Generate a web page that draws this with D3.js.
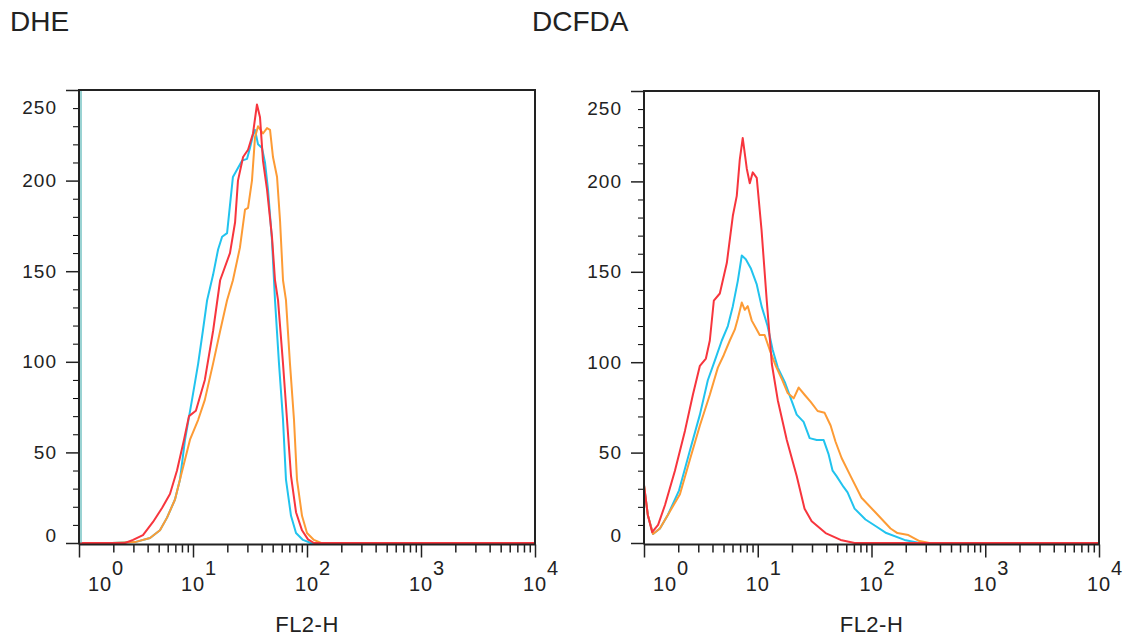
<!DOCTYPE html>
<html>
<head>
<meta charset="utf-8">
<script src="https://cdnjs.cloudflare.com/ajax/libs/d3/7.8.5/d3.min.js"></script>
<style>
body { margin: 0; background: #fff; }
svg text { font-family: "Liberation Sans", Arial, sans-serif; fill: #222; }
</style>
</head>
<body>
<svg id="chart" width="1124" height="637"></svg>
<script>
var titles = ["DHE", "DCFDA"];
var axisLabel = "FL2-H";
var yTicks = [0, 50, 100, 150, 200, 250];
var xDecades = [1, 10, 100, 1000, 10000];
var xExponents = ["0", "1", "2", "3", "4"];
var colors = {red: "#f7353d", cyan: "#21c3ee", orange: "#fd9b35"};

// histograms as [FL2-H, count]
var dheRed = [[1,0],[1.95,0],[2.53,0],[2.98,1.7],[3.64,4.4],[4.46,11.6],[5.35,19.3],[6.28,27],[7.24,40],[8.34,57],[9.22,70],[10.6,73],[12.7,90],[15.0,117],[17.3,145],[21.1,160],[23.4,177],[24.8,200],[27.5,213],[30.4,217],[33.6,226],[36.4,242],[38.7,235],[41.1,211],[44.6,195],[49.3,169],[52.4,145],[55.7,134],[61.6,99],[66.8,68],[72.4,37],[80.1,17],[90.4,7],[102,2],[115,0],[10000,0]];
var dheCyan = [[1,0],[1.95,0],[3.10,0.5],[4.20,2.8],[5.13,7],[5.92,14],[6.95,24],[7.69,35],[8.51,57],[9.80,79],[11.1,99],[12.2,117],[13.3,134],[15.0,148],[16.6,162],[18.0,169],[19.9,171],[22.4,202],[24.8,207],[26.9,211],[29.8,212],[31.6,218],[33.6,225],[35.0,228],[37.2,220],[40.3,218],[42.8,210],[45.5,195],[49.3,167],[52.4,134],[56.8,99],[61.6,68],[65.4,35],[72.4,15],[80.1,5.5],[92.2,1.7],[108,0],[10000,0]];
var dheOrange = [[1,0],[1.95,0],[3.10,0.5],[4.20,2.8],[5.13,7],[5.92,14],[6.95,24],[7.69,35],[9.41,57],[11.1,68],[12.7,79],[15.0,99],[17.3,117],[19.9,134],[22.4,145],[25.8,163],[28.6,184],[30.4,185],[32.9,200],[35.0,224],[37.2,230],[41.1,226],[44.6,229],[47.4,228],[50.3,213],[54.6,202],[58.0,178],[61.6,145],[65.4,134],[70.9,99],[76.9,68],[81.7,35],[90.4,15],[100,5.5],[115,1.7],[133,0],[10000,0]];

var dcfdaRed = [[1.00,32],[1.08,15.5],[1.18,6],[1.33,10],[1.53,21],[1.87,40],[2.29,62],[2.69,82],[3.10,98],[3.50,102],[3.79,112],[4.11,134],[4.64,138],[5.35,155],[6.04,181],[6.54,192],[6.95,212],[7.38,224],[8.01,207],[8.51,199],[9.04,205],[9.80,202],[10.8,173],[12.0,134],[13.3,99],[15.0,79],[18.0,57],[22.0,37],[25.8,19],[29.8,12],[39.5,5.5],[53.5,1.7],[71.0,0],[10000,0]];
var dcfdaCyan = [[1.00,32],[1.08,15.5],[1.20,5],[1.38,8],[1.62,15.5],[2.03,29],[2.53,51],[3.10,71],[3.64,90],[4.20,101],[4.83,112],[5.46,120],[6.04,131],[6.68,145],[7.24,159],[7.85,157],[8.68,152],[9.80,143],[10.8,131],[12.2,120],[13.5,107],[15.0,97],[17.3,89],[19.5,80],[22.0,71],[25.3,67],[28.6,58],[33.0,57],[37.9,57],[42.0,49],[45.5,40],[49.3,37],[56.8,31],[61.6,28],[71.0,19],[88.5,13],[111,9],[135,5.5],[195,1.7],[264,0],[10000,0]];
var dcfdaOrange = [[1.00,32],[1.08,15.5],[1.20,5],[1.38,8],[1.62,15.5],[2.07,27],[2.53,46],[3.10,65],[3.79,82],[4.46,97],[5.03,104],[5.68,112],[6.28,118],[6.68,124],[7.24,133],[7.69,129],[8.17,131],[8.86,123],[9.60,119],[10.4,115],[11.5,115],[12.7,107],[14.4,98],[16.2,91],[18.3,83],[20.7,80],[22.9,86],[25.8,82],[29.2,78],[33.6,73],[38.7,72],[43.7,65],[48.3,56],[54.6,47],[65.5,37],[81.7,25],[108,17],[147,8],[169,5.5],[211,4.4],[264,1.1],[323,0],[10000,0]];

var panels = [
	{title: titles[0], tx: 10, x0: 79, x1: 535, y0: 90, y1: 543, edge: true,
		series: [[dheCyan, colors.cyan], [dheOrange, colors.orange], [dheRed, colors.red]]},
	{title: titles[1], tx: 532, x0: 644, x1: 1099, y0: 91, y1: 543, edge: false,
		series: [[dcfdaCyan, colors.cyan], [dcfdaOrange, colors.orange], [dcfdaRed, colors.red]]}
];

var svg = d3.select("#chart");
panels.forEach(function(p){ drawPanel(svg, p); });

function drawPanel(svg, p) {
	var x = d3.scaleLog().domain([1, 10000]).range([p.x0, p.x1]);
	var y = d3.scaleLinear().domain([0, 250]).range([p.y1, p.y0]);
	var axisY = p.y1 + 1.5;

	svg.append("text")
		.attr("x", p.tx)
		.attr("y", 31)
		.attr("font-size", 28)
		.attr("fill", "#000")
		.text(p.title);

	// curves
	var line = d3.line()
		.x(function(d){ return x(d[0]); })
		.y(function(d){ return y(d[1]); });

	p.series.forEach(function(s){
		svg.append("path")
			.datum(s[0])
			.attr("d", line)
			.attr("fill", "none")
			.attr("stroke", s[1])
			.attr("stroke-width", 2)
			.attr("stroke-linejoin", "round");
	});

	if (p.edge) {
		svg.append("line")
			.attr("x1", p.x0 + 2).attr("x2", p.x0 + 2)
			.attr("y1", p.y0 + 1).attr("y2", p.y1)
			.attr("stroke", "#55b5b5")
			.attr("stroke-width", 1.2);
	}

	// y axis, minor then major
	var minorY = d3.range(0, 251, 10).filter(function(v){ return v % 50 !== 0; });
	svg.append("g")
		.attr("transform", "translate(" + p.x0 + ",0)")
		.call(d3.axisLeft(y).tickValues(minorY).tickSize(6).tickFormat(""))
		.call(function(g){ g.select(".domain").remove(); });

	var gy = svg.append("g")
		.attr("transform", "translate(" + p.x0 + ",0)")
		.call(d3.axisLeft(y).tickValues(yTicks).tickSize(13).tickPadding(9).tickFormat(d3.format("d")));
	gy.select(".domain").remove();
	gy.selectAll(".tick line").attr("stroke", "#222").attr("stroke-width", 1.5);
	gy.selectAll(".tick text")
		.attr("font-size", 19)
		.attr("letter-spacing", 1)
		.attr("fill", "#222")
		.attr("transform", function(d){
			if (d === 0) return "translate(0,-8)";
			if (d === 250) return "translate(0,17)";
			return null;
		});

	// x axis
	var minorX = [];
	xDecades.slice(0, -1).forEach(function(dec){
		for (var k = 2; k < 10; k++) minorX.push(dec * k);
	});
	svg.append("g")
		.attr("transform", "translate(0," + axisY + ")")
		.call(d3.axisBottom(x).tickValues(minorX).tickSize(8).tickFormat(""))
		.call(function(g){ g.select(".domain").remove(); })
		.selectAll(".tick line").attr("stroke", "#222").attr("stroke-width", 1.5);
	svg.append("g")
		.attr("transform", "translate(0," + axisY + ")")
		.call(d3.axisBottom(x).tickValues(xDecades).tickSize(13).tickFormat(""))
		.call(function(g){ g.select(".domain").remove(); })
		.selectAll(".tick line").attr("stroke", "#222").attr("stroke-width", 1.5);

	var labels = svg.append("g");
	xDecades.forEach(function(v, i){
		var cx = x(v) + (i === 0 ? 21 : 0);
		labels.append("text")
			.attr("x", cx)
			.attr("y", 591)
			.attr("text-anchor", "middle")
			.attr("font-size", 20)
			.attr("letter-spacing", 1)
			.text("10");
		labels.append("text")
			.attr("x", cx + 12)
			.attr("y", 575)
			.attr("font-size", 20)
			.text(xExponents[i]);
	});

	svg.append("text")
		.attr("x", (p.x0 + p.x1) / 2)
		.attr("y", 632)
		.attr("text-anchor", "middle")
		.attr("font-size", 22)
		.attr("letter-spacing", 0.5)
		.text(axisLabel);

	// frame
	svg.append("path")
		.attr("d", "M" + p.x0 + "," + axisY + "V" + p.y0 + "H" + p.x1 + "V" + axisY + "H" + p.x0)
		.attr("fill", "none")
		.attr("stroke", "#222")
		.attr("stroke-width", 2);
}
</script>
</body>
</html>
